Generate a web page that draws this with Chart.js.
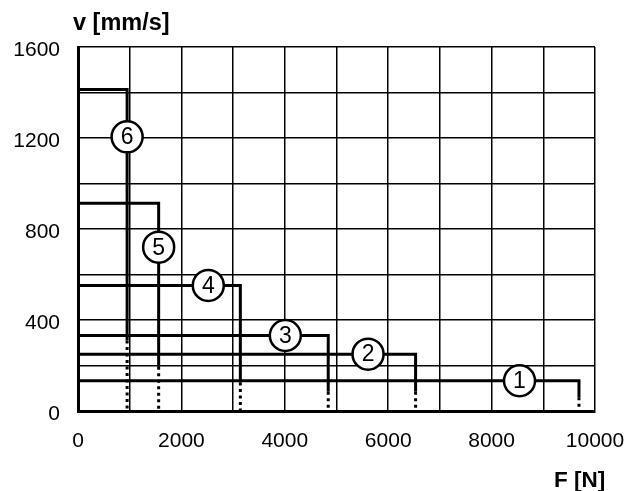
<!DOCTYPE html>
<html><head><meta charset="utf-8">
<script src="https://cdn.jsdelivr.net/npm/chart.js@4.4.0/dist/chart.umd.min.js"></script>
<style>html,body{margin:0;padding:0;background:#fff;} canvas{display:block;}</style>
</head><body>
<canvas id="c" width="636" height="491"></canvas>
<script>
// ---- data ----
const curveNames = ['1', '2', '3', '4', '5', '6'];
const speedV     = [133, 250, 332, 552, 913, 1413];   // v [mm/s] plateau of each curve
const forceMax   = [9690, 6530, 4840, 3140, 1560, 950]; // F [N] where each curve drops
const solidEndV  = [60, 85, 85, 125, 195, 310];        // where the solid drop turns dotted
const labelF     = [8540, 5610, 4010, 2520, 1560, 950];
const labelV     = [133, 250, 332, 552, 720, 1205];
const xTickLabels = [0, 2000, 4000, 6000, 8000, 10000];
const yTickLabels = [0, 400, 800, 1200, 1600];
const xTitle = 'F [N]';
const yTitle = 'v [mm/s]';

const FONT = '"Liberation Sans", Arial, Helvetica, sans-serif';

const datasets = [];
curveNames.forEach((n, i) => {
  datasets.push({
    label: 'curve ' + n,
    data: [{x: 0, y: speedV[i]}, {x: forceMax[i], y: speedV[i]}, {x: forceMax[i], y: solidEndV[i]}],
    borderColor: '#000', borderWidth: 3, pointRadius: 0, tension: 0,
    borderJoinStyle: 'miter', borderCapStyle: 'butt', fill: false
  });
  datasets.push({
    label: 'curve ' + n + ' dotted',
    data: [{x: forceMax[i], y: solidEndV[i]}, {x: forceMax[i], y: 0}],
    borderColor: '#000', borderWidth: 3, pointRadius: 0, tension: 0,
    borderDash: [3, 3.5], borderCapStyle: 'butt', fill: false
  });
});

const overlay = {
  id: 'overlay',
  afterDatasetsDraw(chart) {
    const {ctx, scales: {x, y}} = chart;
    ctx.save();
    curveNames.forEach((n, i) => {
      const px = x.getPixelForValue(labelF[i]);
      const py = y.getPixelForValue(labelV[i]);
      ctx.beginPath();
      ctx.arc(px, py, 15.5, 0, Math.PI * 2);
      ctx.fillStyle = '#fff'; ctx.fill();
      ctx.lineWidth = 2.5; ctx.strokeStyle = '#000'; ctx.stroke();
      ctx.fillStyle = '#000';
      ctx.font = '23px ' + FONT;
      ctx.textAlign = 'center'; ctx.textBaseline = 'middle';
      ctx.fillText(n, px, py + 1);
    });
    ctx.fillStyle = '#000';
    ctx.textAlign = 'left'; ctx.textBaseline = 'alphabetic';
    ctx.font = 'bold 23.5px ' + FONT;
    ctx.fillText(yTitle, 73, 29.5);
    ctx.font = 'bold 22.5px ' + FONT;
    ctx.fillText(xTitle, 554, 486.5);
    ctx.restore();
  }
};

new Chart(document.getElementById('c'), {
  type: 'line',
  data: {datasets},
  options: {
    responsive: false, animation: false,
    layout: {padding: {top: 47, right: 41, left: 0, bottom: 0}},
    plugins: {legend: {display: false}, tooltip: {enabled: false}},
    scales: {
      x: {
        type: 'linear', min: 0, max: 10000,
        afterFit(s) { s.height = 80; s.paddingLeft = 0; s.paddingRight = 0; },
        ticks: {
          stepSize: 1000, autoSkip: false, maxRotation: 0, padding: 18, color: '#000',
          font: {family: FONT, size: 21},
          callback: v => xTickLabels.includes(v) ? String(v) : ''
        },
        grid: {color: '#000', lineWidth: 1.5, drawTicks: false},
        border: {color: '#000', width: 3}
      },
      y: {
        type: 'linear', min: 0, max: 1600,
        afterFit(s) { s.width = 78; s.paddingTop = 0; s.paddingBottom = 0; },
        ticks: {
          stepSize: 200, autoSkip: false, padding: 18, labelOffset: 3, color: '#000',
          font: {family: FONT, size: 21},
          callback: v => yTickLabels.includes(v) ? String(v) : ''
        },
        grid: {color: '#000', lineWidth: 1.5, drawTicks: false},
        border: {color: '#000', width: 3}
      }
    }
  },
  plugins: [overlay]
});
</script>
</body></html>
